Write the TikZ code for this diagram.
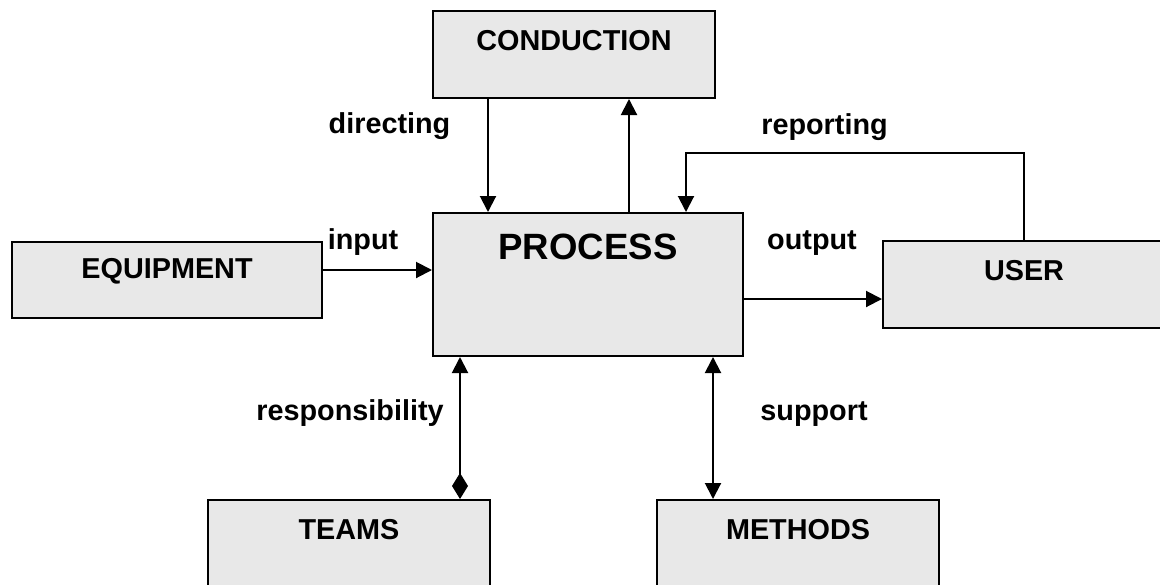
\documentclass[tikz,border=0pt]{standalone}
\usepackage{fontspec}
\setmainfont{Liberation Sans}
\usetikzlibrary{arrows.meta}
\definecolor{boxfill}{RGB}{232,232,232}

\begin{document}
\begin{tikzpicture}[x=0.5pt, y=-0.5pt,
  box/.style={draw, fill=boxfill, line width=1pt, inner sep=0pt, anchor=north west,
    font=\bfseries\fontsize{14.4}{17}\selectfont},
  narrow/.style={box, minimum width=141pt, text height=19.5pt, text depth=24pt},
  wide/.style={box, minimum width=155pt},
  lbl/.style={inner sep=0pt, anchor=base, font=\bfseries\fontsize{14.4}{17}\selectfont},
  arr/.style={-{Triangle[length=8pt, width=8pt]}, line width=1pt},
  both/.style={{Triangle[length=8pt, width=8pt]}-{Triangle[length=8pt, width=8pt]}, line width=1pt}]
\useasboundingbox (0,0) rectangle (1160,584);

\node[wide, text height=23pt, text depth=48.5pt, font=\bfseries\fontsize{18.3}{22}\selectfont] (proc) at (432,212) {PROCESS};
\node[narrow] (cond) at (432,10) {CONDUCTION};
\node[wide, text height=18.4pt, text depth=19.6pt] (equip) at (11,241) {EQUIPMENT};
\node[narrow] (user) at (882,240) {USER};
\node[narrow] (teams) at (207,499) {TEAMS};
\node[narrow] (meth) at (656,499) {METHODS};

\node[lbl] (dir) at (389.5,133) {directing};
\node[lbl] (rep) at (824.5,134) {reporting};
\node[lbl] (inp) at (363,249) {input};
\node[lbl] (outp) at (812,249) {output};
\node[lbl] (resp) at (350,420) {responsibility};
\node[lbl, anchor=base west] (sup) at (760,420) {support};

\draw[arr] ([xshift=28pt]cond.south west) -- ([xshift=28pt]proc.north west);
\draw[arr] ([xshift=98.5pt]proc.north west) -- ([xshift=98.5pt]cond.south west);
\draw[arr] (user.north) -- ++(0,-87) -| ([xshift=127pt]proc.north west);
\coordinate (in) at ([yshift=5pt]equip.east);
\draw[arr] (in) -- (in -| proc.west);
\draw[arr] ([yshift=-7.25pt]proc.east) -- ([yshift=-7.25pt]user.west);
\coordinate (rs) at ([xshift=14pt]proc.south west);
\draw[{Diamond[length=13pt, width=8pt]}-{Triangle[length=8pt, width=8pt]}, line width=1pt] (rs |- teams.north) -- (rs);
\coordinate (sp) at ([xshift=140.5pt]proc.south west);
\draw[both] (sp) -- (sp |- meth.north);
\end{tikzpicture}
\end{document}
